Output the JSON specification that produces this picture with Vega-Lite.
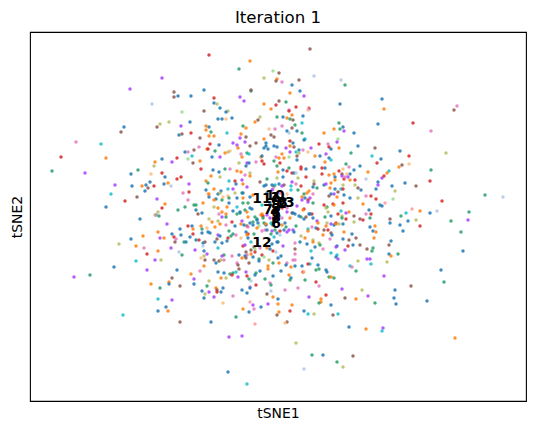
{"$schema":"https://vega.github.io/schema/vega-lite/v6.json","width":496,"height":369,"autosize":"none","padding":{"left":30,"top":32,"right":9,"bottom":30},"background":"white","title":{"text":"Iteration 1","fontSize":16.6,"font":"DejaVu Sans","fontWeight":"normal","color":"black","offset":5,"anchor":"middle"},"config":{"view":{"stroke":"black","strokeWidth":1.1},"font":"DejaVu Sans"},
"datasets":{"labels":[{"x":246,"y":200,"t":"0"},{"x":245,"y":203,"t":"1"},{"x":252,"y":197,"t":"2"},{"x":253,"y":198,"t":"3"},{"x":245,"y":189,"t":"4"},{"x":246,"y":186,"t":"5"},{"x":246,"y":177,"t":"6"},{"x":238,"y":191,"t":"7"},{"x":246,"y":183,"t":"8"},{"x":246,"y":192,"t":"9"},{"x":245,"y":205,"t":"10"},{"x":232,"y":202,"t":"11"},{"x":232,"y":158,"t":"12"},{"x":255,"y":198,"t":"13"}],
"cells":[{"x":179,"y":346,"c":3},{"x":220,"y":340,"c":1},{"x":209,"y":332,"c":2},{"x":243,"y":330,"c":11},{"x":249,"y":328,"c":5},{"x":234,"y":323,"c":7},{"x":247,"y":322,"c":1},{"x":246,"y":320,"c":5},{"x":132,"y":323,"c":4},{"x":100,"y":312,"c":4},{"x":144,"y":309,"c":5},{"x":148,"y":305,"c":0},{"x":144,"y":304,"c":5},{"x":161,"y":305,"c":0},{"x":174,"y":311,"c":0},{"x":221,"y":310,"c":2},{"x":221,"y":311,"c":5},{"x":184,"y":303,"c":3},{"x":210,"y":304,"c":4},{"x":122,"y":297,"c":9},{"x":214,"y":300,"c":4},{"x":184,"y":298,"c":0},{"x":187,"y":297,"c":7},{"x":234,"y":297,"c":1},{"x":249,"y":300,"c":5},{"x":246,"y":296,"c":3},{"x":190,"y":293,"c":0},{"x":241,"y":292,"c":1},{"x":198,"y":290,"c":7},{"x":196,"y":289,"c":0},{"x":174,"y":290,"c":5},{"x":152,"y":289,"c":11},{"x":247,"y":284,"c":2},{"x":230,"y":284,"c":7},{"x":228,"y":281,"c":5},{"x":225,"y":279,"c":1},{"x":188,"y":282,"c":0},{"x":192,"y":282,"c":0},{"x":196,"y":282,"c":10},{"x":202,"y":283,"c":0},{"x":160,"y":279,"c":0},{"x":139,"y":279,"c":7},{"x":130,"y":277,"c":7},{"x":127,"y":274,"c":5},{"x":94,"y":274,"c":0},{"x":91,"y":269,"c":5},{"x":151,"y":275,"c":4},{"x":176,"y":275,"c":1},{"x":179,"y":274,"c":0},{"x":213,"y":275,"c":2},{"x":216,"y":273,"c":1},{"x":176,"y":271,"c":1},{"x":181,"y":269,"c":2},{"x":197,"y":268,"c":8},{"x":161,"y":268,"c":3},{"x":149,"y":266,"c":0},{"x":152,"y":267,"c":5},{"x":211,"y":267,"c":1},{"x":179,"y":265,"c":1},{"x":184,"y":265,"c":1},{"x":170,"y":263,"c":5},{"x":210,"y":263,"c":4},{"x":216,"y":264,"c":5},{"x":239,"y":272,"c":10},{"x":245,"y":272,"c":6},{"x":234,"y":262,"c":1},{"x":241,"y":266,"c":5},{"x":244,"y":264,"c":5},{"x":46,"y":259,"c":6},{"x":71,"y":257,"c":8},{"x":215,"y":259,"c":4},{"x":180,"y":257,"c":3},{"x":203,"y":258,"c":4},{"x":189,"y":256,"c":0},{"x":207,"y":256,"c":4},{"x":226,"y":258,"c":5},{"x":220,"y":255,"c":5},{"x":236,"y":258,"c":0},{"x":236,"y":255,"c":0},{"x":234,"y":253,"c":0},{"x":238,"y":252,"c":0},{"x":244,"y":255,"c":0},{"x":247,"y":254,"c":0},{"x":169,"y":254,"c":6},{"x":208,"y":253,"c":1},{"x":164,"y":251,"c":5},{"x":177,"y":252,"c":1},{"x":178,"y":252,"c":3},{"x":185,"y":250,"c":2},{"x":155,"y":249,"c":0},{"x":158,"y":249,"c":6},{"x":200,"y":250,"c":10},{"x":198,"y":249,"c":7},{"x":195,"y":248,"c":1},{"x":211,"y":247,"c":6},{"x":217,"y":248,"c":2},{"x":219,"y":247,"c":8},{"x":31,"y":244,"c":3},{"x":76,"y":243,"c":1},{"x":147,"y":243,"c":3},{"x":132,"y":242,"c":0},{"x":162,"y":245,"c":8},{"x":158,"y":242,"c":11},{"x":170,"y":240,"c":1},{"x":190,"y":244,"c":4},{"x":182,"y":244,"c":0},{"x":212,"y":244,"c":1},{"x":231,"y":244,"c":1},{"x":232,"y":245,"c":0},{"x":125,"y":239,"c":1},{"x":142,"y":239,"c":4},{"x":163,"y":238,"c":5},{"x":209,"y":238,"c":7},{"x":217,"y":238,"c":4},{"x":219,"y":238,"c":0},{"x":226,"y":239,"c":6},{"x":232,"y":240,"c":3},{"x":234,"y":237,"c":3},{"x":244,"y":240,"c":2},{"x":246,"y":244,"c":6},{"x":249,"y":243,"c":1},{"x":124,"y":235,"c":7},{"x":216,"y":235,"c":0},{"x":247,"y":235,"c":2},{"x":171,"y":232,"c":3},{"x":195,"y":232,"c":2},{"x":200,"y":232,"c":6},{"x":108,"y":231,"c":2},{"x":22,"y":230,"c":2},{"x":183,"y":231,"c":0},{"x":189,"y":229,"c":0},{"x":207,"y":230,"c":1},{"x":211,"y":229,"c":1},{"x":55,"y":228,"c":4},{"x":101,"y":227,"c":0},{"x":132,"y":228,"c":3},{"x":220,"y":228,"c":7},{"x":220,"y":225,"c":1},{"x":215,"y":226,"c":6},{"x":190,"y":224,"c":7},{"x":181,"y":225,"c":1},{"x":121,"y":227,"c":10},{"x":135,"y":224,"c":0},{"x":151,"y":224,"c":3},{"x":147,"y":222,"c":3},{"x":237,"y":222,"c":2},{"x":247,"y":223,"c":7},{"x":176,"y":220,"c":1},{"x":199,"y":220,"c":8},{"x":205,"y":220,"c":3},{"x":212,"y":221,"c":4},{"x":178,"y":218,"c":2},{"x":120,"y":219,"c":0},{"x":138,"y":218,"c":1},{"x":116,"y":216,"c":0},{"x":134,"y":217,"c":0},{"x":85,"y":216,"c":4},{"x":102,"y":215,"c":0},{"x":112,"y":215,"c":1},{"x":124,"y":215,"c":3},{"x":141,"y":215,"c":9},{"x":159,"y":217,"c":4},{"x":206,"y":217,"c":0},{"x":213,"y":217,"c":1},{"x":217,"y":214,"c":4},{"x":230,"y":219,"c":5},{"x":234,"y":215,"c":0},{"x":236,"y":216,"c":0},{"x":243,"y":212,"c":6},{"x":244,"y":215,"c":5},{"x":118,"y":213,"c":5},{"x":115,"y":210,"c":0},{"x":176,"y":211,"c":0},{"x":198,"y":212,"c":8},{"x":191,"y":210,"c":0},{"x":159,"y":209,"c":3},{"x":153,"y":208,"c":6},{"x":205,"y":208,"c":7},{"x":212,"y":208,"c":2},{"x":81,"y":207,"c":8},{"x":178,"y":207,"c":10},{"x":179,"y":207,"c":1},{"x":188,"y":207,"c":0},{"x":190,"y":208,"c":7},{"x":179,"y":204,"c":0},{"x":184,"y":212,"c":1},{"x":193,"y":204,"c":10},{"x":198,"y":205,"c":10},{"x":107,"y":204,"c":5},{"x":199,"y":203,"c":2},{"x":186,"y":202,"c":0},{"x":207,"y":203,"c":0},{"x":220,"y":204,"c":0},{"x":203,"y":212,"c":4},{"x":184,"y":201,"c":1},{"x":192,"y":201,"c":2},{"x":199,"y":198,"c":0},{"x":127,"y":202,"c":4},{"x":95,"y":200,"c":3},{"x":158,"y":201,"c":6},{"x":173,"y":198,"c":1},{"x":135,"y":197,"c":1},{"x":76,"y":194,"c":0},{"x":155,"y":194,"c":2},{"x":164,"y":196,"c":2},{"x":166,"y":196,"c":2},{"x":184,"y":194,"c":7},{"x":197,"y":194,"c":1},{"x":207,"y":194,"c":8},{"x":213,"y":198,"c":2},{"x":218,"y":198,"c":2},{"x":188,"y":193,"c":1},{"x":132,"y":193,"c":3},{"x":148,"y":191,"c":2},{"x":166,"y":191,"c":0},{"x":172,"y":188,"c":0},{"x":203,"y":190,"c":0},{"x":217,"y":189,"c":1},{"x":222,"y":192,"c":0},{"x":192,"y":189,"c":1},{"x":128,"y":189,"c":7},{"x":168,"y":187,"c":5},{"x":189,"y":187,"c":6},{"x":196,"y":187,"c":1},{"x":207,"y":187,"c":2},
{"x":126,"y":186,"c":4},{"x":129,"y":185,"c":2},{"x":125,"y":186,"c":7},{"x":110,"y":182,"c":0},{"x":179,"y":182,"c":7},{"x":192,"y":184,"c":4},{"x":196,"y":184,"c":2},{"x":210,"y":188,"c":2},{"x":227,"y":182,"c":2},{"x":231,"y":186,"c":1},{"x":233,"y":185,"c":3},{"x":212,"y":180,"c":4},{"x":188,"y":180,"c":7},{"x":182,"y":179,"c":1},{"x":202,"y":179,"c":3},{"x":223,"y":179,"c":2},{"x":220,"y":178,"c":0},{"x":228,"y":178,"c":0},{"x":234,"y":178,"c":2},{"x":211,"y":177,"c":1},{"x":214,"y":176,"c":0},{"x":217,"y":175,"c":5},{"x":229,"y":175,"c":11},{"x":236,"y":176,"c":0},{"x":236,"y":177,"c":1},{"x":242,"y":177,"c":2},{"x":137,"y":177,"c":4},{"x":158,"y":175,"c":3},{"x":162,"y":175,"c":0},{"x":171,"y":175,"c":1},{"x":172,"y":172,"c":2},{"x":177,"y":173,"c":10},{"x":190,"y":177,"c":1},{"x":196,"y":176,"c":6},{"x":185,"y":174,"c":1},{"x":205,"y":175,"c":0},{"x":150,"y":172,"c":0},{"x":163,"y":172,"c":1},{"x":128,"y":169,"c":1},{"x":199,"y":170,"c":2},{"x":232,"y":170,"c":6},{"x":235,"y":171,"c":6},{"x":242,"y":170,"c":4},{"x":216,"y":169,"c":0},{"x":113,"y":165,"c":1},{"x":142,"y":167,"c":0},{"x":151,"y":166,"c":0},{"x":163,"y":167,"c":3},{"x":172,"y":168,"c":0},{"x":178,"y":169,"c":0},{"x":180,"y":168,"c":0},{"x":218,"y":167,"c":3},{"x":217,"y":166,"c":1},{"x":224,"y":167,"c":2},{"x":203,"y":167,"c":2},{"x":206,"y":166,"c":6},{"x":188,"y":166,"c":4},{"x":190,"y":165,"c":0},{"x":241,"y":167,"c":2},{"x":247,"y":168,"c":0},{"x":244,"y":164,"c":8},{"x":130,"y":163,"c":4},{"x":144,"y":164,"c":3},{"x":134,"y":163,"c":1},{"x":160,"y":164,"c":0},{"x":187,"y":162,"c":5},{"x":198,"y":163,"c":3},{"x":201,"y":165,"c":2},{"x":218,"y":163,"c":0},{"x":211,"y":163,"c":10},{"x":101,"y":162,"c":0},{"x":146,"y":162,"c":6},{"x":169,"y":161,"c":3},{"x":166,"y":161,"c":0},{"x":197,"y":160,"c":0},{"x":221,"y":159,"c":8},{"x":175,"y":159,"c":5},{"x":173,"y":158,"c":0},{"x":185,"y":159,"c":0},{"x":192,"y":158,"c":0},{"x":145,"y":159,"c":5},{"x":154,"y":159,"c":2},{"x":156,"y":159,"c":0},{"x":242,"y":157,"c":0},{"x":247,"y":159,"c":0},{"x":89,"y":157,"c":7},{"x":106,"y":155,"c":1},{"x":213,"y":155,"c":3},{"x":215,"y":156,"c":4},{"x":173,"y":155,"c":9},{"x":114,"y":153,"c":6},{"x":141,"y":153,"c":4},{"x":188,"y":153,"c":8},{"x":224,"y":154,"c":5},{"x":230,"y":153,"c":6},{"x":237,"y":153,"c":1},{"x":240,"y":152,"c":0},{"x":243,"y":150,"c":3},{"x":221,"y":151,"c":5},{"x":225,"y":152,"c":11},{"x":128,"y":150,"c":1},{"x":165,"y":151,"c":4},{"x":174,"y":150,"c":0},{"x":225,"y":149,"c":3},{"x":216,"y":149,"c":5},{"x":246,"y":149,"c":9},{"x":117,"y":147,"c":3},{"x":149,"y":149,"c":9},{"x":152,"y":146,"c":2},{"x":177,"y":147,"c":4},{"x":194,"y":146,"c":2},{"x":192,"y":145,"c":4},{"x":202,"y":145,"c":6},{"x":209,"y":146,"c":0},{"x":221,"y":147,"c":1},{"x":217,"y":146,"c":6},{"x":232,"y":146,"c":3},{"x":229,"y":142,"c":2},{"x":234,"y":144,"c":11},{"x":248,"y":143,"c":0},{"x":223,"y":144,"c":0},{"x":215,"y":145,"c":0},{"x":212,"y":143,"c":1},{"x":216,"y":143,"c":5},{"x":171,"y":143,"c":10},{"x":174,"y":145,"c":7},{"x":175,"y":141,"c":5},{"x":125,"y":141,"c":4},{"x":131,"y":141,"c":7},{"x":106,"y":140,"c":8},{"x":184,"y":141,"c":5},{"x":189,"y":140,"c":5},{"x":191,"y":141,"c":7},{"x":194,"y":141,"c":6},{"x":186,"y":138,"c":0},{"x":229,"y":140,"c":0},{"x":239,"y":141,"c":7},{"x":219,"y":138,"c":5},{"x":243,"y":138,"c":2},{"x":249,"y":138,"c":1},{"x":207,"y":138,"c":6},{"x":208,"y":136,"c":5},{"x":174,"y":135,"c":1},{"x":238,"y":135,"c":1},{"x":238,"y":132,"c":1},{"x":84,"y":134,"c":0},{"x":117,"y":131,"c":4},{"x":147,"y":131,"c":0},{"x":170,"y":130,"c":6},{"x":209,"y":132,"c":5},{"x":216,"y":129,"c":4},{"x":188,"y":129,"c":0},{"x":194,"y":128,"c":0},{"x":200,"y":127,"c":2},{"x":203,"y":128,"c":2},{"x":202,"y":126,"c":3},{"x":206,"y":129,"c":8},{"x":230,"y":130,"c":0},{"x":226,"y":128,"c":2},{"x":225,"y":126,"c":0},{"x":217,"y":125,"c":3},{"x":161,"y":127,"c":1},{"x":208,"y":124,"c":4},{"x":243,"y":125,"c":0},{"x":191,"y":123,"c":1},{"x":196,"y":123,"c":7},{"x":164,"y":122,"c":4},{"x":219,"y":122,"c":2},{"x":235,"y":122,"c":2},{"x":142,"y":123,"c":5},{"x":221,"y":120,"c":9},{"x":139,"y":119,"c":1},{"x":139,"y":117,"c":0},{"x":121,"y":117,"c":1},{"x":179,"y":120,"c":7},{"x":164,"y":117,"c":0},{"x":240,"y":118,"c":6},{"x":241,"y":116,"c":2},{"x":226,"y":116,"c":3},{"x":177,"y":115,"c":2},{"x":150,"y":115,"c":5},{"x":220,"y":114,"c":6},{"x":220,"y":113,"c":0},{"x":130,"y":113,"c":2},{"x":186,"y":113,"c":1},{"x":187,"y":111,"c":5},{"x":193,"y":113,"c":0},{"x":212,"y":111,"c":0},{"x":241,"y":110,"c":9},{"x":172,"y":110,"c":0},{"x":179,"y":109,"c":4},{"x":187,"y":109,"c":3},{"x":191,"y":109,"c":0},{"x":217,"y":108,"c":0},{"x":175,"y":107,"c":7},{"x":237,"y":107,"c":5},{"x":203,"y":105,"c":6},{"x":243,"y":104,"c":1},{"x":174,"y":103,"c":0},{"x":184,"y":104,"c":4},{"x":248,"y":102,"c":0},{"x":128,"y":102,"c":8},{"x":142,"y":101,"c":4},{"x":220,"y":99,"c":12},{"x":193,"y":98,"c":10},{"x":223,"y":96,"c":4},{"x":248,"y":97,"c":1},{"x":238,"y":97,"c":4},{"x":136,"y":94,"c":0},{"x":231,"y":94,"c":0},{"x":213,"y":92,"c":1},{"x":224,"y":92,"c":6},{"x":128,"y":90,"c":0},{"x":138,"y":90,"c":1},{"x":219,"y":89,"c":0},{"x":249,"y":89,"c":1},{"x":93,"y":86,"c":8},{"x":247,"y":86,"c":5},{"x":206,"y":84,"c":2},{"x":150,"y":79,"c":5},{"x":181,"y":79,"c":0},{"x":225,"y":77,"c":12},{"x":199,"y":64,"c":4},{"x":212,"y":65,"c":4},{"x":198,"y":29,"c":0},{"x":217,"y":17,"c":8},{"x":44,"y":124,"c":4},{"x":60,"y":126,"c":2},
{"x":280,"y":352,"c":5},{"x":252,"y":319,"c":6},{"x":269,"y":321,"c":5},{"x":284,"y":325,"c":9},{"x":311,"y":321,"c":9},{"x":315,"y":316,"c":2},{"x":262,"y":316,"c":0},{"x":270,"y":310,"c":0},{"x":260,"y":308,"c":1},{"x":274,"y":305,"c":4},{"x":352,"y":302,"c":0},{"x":256,"y":299,"c":2},{"x":310,"y":297,"c":0},{"x":266,"y":294,"c":3},{"x":279,"y":293,"c":1},{"x":279,"y":292,"c":4},{"x":278,"y":291,"c":10},{"x":259,"y":291,"c":6},{"x":259,"y":290,"c":3},{"x":354,"y":292,"c":1},{"x":427,"y":295,"c":6},{"x":424,"y":291,"c":5},{"x":262,"y":286,"c":1},{"x":273,"y":285,"c":0},{"x":253,"y":284,"c":0},{"x":257,"y":283,"c":1},{"x":260,"y":282,"c":2},{"x":263,"y":281,"c":5},{"x":383,"y":278,"c":3},{"x":272,"y":278,"c":8},{"x":309,"y":278,"c":2},{"x":348,"y":277,"c":0},{"x":265,"y":276,"c":2},{"x":313,"y":274,"c":0},{"x":262,"y":273,"c":5},{"x":252,"y":275,"c":6},{"x":304,"y":272,"c":1},{"x":310,"y":272,"c":2},{"x":314,"y":270,"c":4},{"x":401,"y":270,"c":6},{"x":257,"y":270,"c":0},{"x":259,"y":268,"c":9},{"x":267,"y":270,"c":0},{"x":272,"y":268,"c":2},{"x":294,"y":268,"c":1},{"x":324,"y":268,"c":0},{"x":275,"y":262,"c":8},{"x":274,"y":261,"c":0},{"x":308,"y":262,"c":11},{"x":260,"y":260,"c":3},{"x":263,"y":258,"c":0},{"x":289,"y":257,"c":3},{"x":307,"y":259,"c":4},{"x":298,"y":257,"c":6},{"x":260,"y":255,"c":1},{"x":264,"y":254,"c":5},{"x":299,"y":254,"c":3},{"x":256,"y":253,"c":4},{"x":301,"y":252,"c":0},{"x":309,"y":253,"c":1},{"x":281,"y":253,"c":4},{"x":328,"y":255,"c":0},{"x":345,"y":253,"c":5},{"x":273,"y":251,"c":6},{"x":269,"y":251,"c":0},{"x":260,"y":249,"c":4},{"x":266,"y":249,"c":8},{"x":269,"y":248,"c":7},{"x":278,"y":249,"c":10},{"x":370,"y":250,"c":0},{"x":321,"y":248,"c":2},{"x":252,"y":247,"c":1},{"x":267,"y":245,"c":5},{"x":290,"y":245,"c":0},{"x":285,"y":245,"c":1},{"x":296,"y":247,"c":4},{"x":259,"y":244,"c":11},{"x":342,"y":245,"c":8},{"x":379,"y":245,"c":3},{"x":416,"y":248,"c":7},{"x":254,"y":243,"c":1},{"x":299,"y":243,"c":0},{"x":301,"y":241,"c":8},{"x":267,"y":241,"c":0},{"x":351,"y":242,"c":0},{"x":295,"y":239,"c":1},{"x":347,"y":238,"c":3},{"x":379,"y":237,"c":10},{"x":369,"y":234,"c":1},{"x":372,"y":236,"c":5},{"x":250,"y":238,"c":3},{"x":316,"y":237,"c":2},{"x":284,"y":234,"c":0},{"x":295,"y":233,"c":0},{"x":292,"y":233,"c":3},{"x":319,"y":234,"c":6},{"x":313,"y":232,"c":10},{"x":330,"y":235,"c":0},{"x":259,"y":233,"c":2},{"x":271,"y":234,"c":3},{"x":271,"y":232,"c":3},{"x":276,"y":232,"c":0},{"x":401,"y":231,"c":2},{"x":253,"y":231,"c":0},{"x":257,"y":230,"c":3},{"x":262,"y":228,"c":3},{"x":264,"y":228,"c":0},{"x":266,"y":228,"c":9},{"x":248,"y":229,"c":1},{"x":324,"y":231,"c":0},{"x":320,"y":227,"c":0},{"x":338,"y":229,"c":1},{"x":359,"y":230,"c":8},{"x":357,"y":228,"c":1},{"x":292,"y":227,"c":3},{"x":299,"y":226,"c":1},{"x":304,"y":227,"c":1},{"x":305,"y":224,"c":0},{"x":309,"y":230,"c":3},{"x":312,"y":227,"c":5},{"x":317,"y":227,"c":10},{"x":314,"y":222,"c":3},{"x":318,"y":224,"c":4},{"x":312,"y":225,"c":4},{"x":315,"y":224,"c":6},{"x":268,"y":223,"c":7},{"x":253,"y":224,"c":0},{"x":276,"y":224,"c":3},{"x":320,"y":221,"c":1},{"x":352,"y":223,"c":4},{"x":354,"y":225,"c":3},{"x":305,"y":221,"c":1},{"x":325,"y":221,"c":3},{"x":336,"y":222,"c":9},{"x":400,"y":220,"c":3},{"x":348,"y":219,"c":0},{"x":284,"y":220,"c":7},{"x":284,"y":217,"c":5},{"x":262,"y":219,"c":4},{"x":348,"y":216,"c":4},{"x":301,"y":218,"c":1},{"x":294,"y":216,"c":0},{"x":296,"y":217,"c":4},{"x":313,"y":216,"c":7},{"x":325,"y":216,"c":7},{"x":254,"y":216,"c":5},{"x":252,"y":215,"c":4},{"x":271,"y":215,"c":3},{"x":266,"y":217,"c":6},{"x":375,"y":218,"c":0},{"x":362,"y":215,"c":0},{"x":386,"y":215,"c":5},{"x":300,"y":213,"c":1},{"x":261,"y":215,"c":8},{"x":283,"y":214,"c":0},{"x":287,"y":213,"c":2},{"x":305,"y":212,"c":0},{"x":328,"y":213,"c":5},{"x":346,"y":212,"c":0},{"x":365,"y":210,"c":7},{"x":261,"y":211,"c":8},{"x":268,"y":211,"c":2},{"x":311,"y":212,"c":8},{"x":313,"y":212,"c":3},{"x":279,"y":210,"c":1},{"x":277,"y":208,"c":1},{"x":308,"y":209,"c":5},{"x":331,"y":211,"c":0},{"x":283,"y":207,"c":6},{"x":304,"y":207,"c":4},{"x":301,"y":207,"c":0},{"x":455,"y":206,"c":2},{"x":473,"y":204,"c":9},{"x":336,"y":205,"c":6},{"x":341,"y":205,"c":3},{"x":299,"y":205,"c":5},{"x":314,"y":206,"c":0},{"x":307,"y":204,"c":1},{"x":257,"y":207,"c":10},{"x":363,"y":202,"c":11},{"x":320,"y":203,"c":0},{"x":328,"y":203,"c":7},{"x":346,"y":202,"c":3},{"x":412,"y":200,"c":3},{"x":274,"y":207,"c":2},{"x":272,"y":204,"c":1},{"x":275,"y":203,"c":0},{"x":280,"y":203,"c":4},{"x":272,"y":201,"c":4},{"x":278,"y":201,"c":3},{"x":283,"y":198,"c":2},{"x":278,"y":199,"c":4},{"x":313,"y":198,"c":3},{"x":333,"y":197,"c":1},{"x":355,"y":198,"c":12},{"x":350,"y":196,"c":0},{"x":352,"y":195,"c":0},{"x":267,"y":195,"c":4},{"x":294,"y":196,"c":3},{"x":297,"y":194,"c":2},{"x":296,"y":193,"c":7},{"x":303,"y":197,"c":3},{"x":304,"y":196,"c":1},{"x":339,"y":191,"c":0},{"x":382,"y":192,"c":12},{"x":390,"y":190,"c":1},{"x":407,"y":190,"c":9},{"x":376,"y":188,"c":8},{"x":400,"y":188,"c":0},{"x":439,"y":189,"c":2},{"x":274,"y":192,"c":3},{"x":273,"y":191,"c":1},{"x":279,"y":187,"c":0},{"x":319,"y":189,"c":1},{"x":311,"y":190,"c":8},{"x":298,"y":189,"c":7},{"x":316,"y":188,"c":4},{"x":336,"y":187,"c":6},{"x":341,"y":187,"c":3},{"x":308,"y":187,"c":3},{"x":282,"y":187,"c":3},{"x":265,"y":187,"c":0},{"x":262,"y":188,"c":5},
{"x":324,"y":185,"c":5},{"x":371,"y":185,"c":2},{"x":301,"y":185,"c":0},{"x":295,"y":184,"c":2},{"x":312,"y":185,"c":7},{"x":316,"y":182,"c":3},{"x":312,"y":183,"c":2},{"x":340,"y":183,"c":2},{"x":330,"y":182,"c":5},{"x":333,"y":181,"c":3},{"x":378,"y":180,"c":0},{"x":386,"y":181,"c":7},{"x":421,"y":180,"c":2},{"x":438,"y":181,"c":4},{"x":360,"y":182,"c":5},{"x":360,"y":178,"c":0},{"x":324,"y":179,"c":7},{"x":313,"y":177,"c":0},{"x":287,"y":180,"c":4},{"x":288,"y":178,"c":1},{"x":306,"y":178,"c":3},{"x":297,"y":178,"c":7},{"x":296,"y":175,"c":1},{"x":301,"y":177,"c":4},{"x":304,"y":176,"c":0},{"x":306,"y":177,"c":1},{"x":309,"y":177,"c":7},{"x":283,"y":183,"c":0},{"x":274,"y":182,"c":0},{"x":271,"y":184,"c":2},{"x":276,"y":184,"c":5},{"x":280,"y":187,"c":0},{"x":269,"y":185,"c":0},{"x":340,"y":174,"c":0},{"x":345,"y":175,"c":1},{"x":370,"y":176,"c":0},{"x":390,"y":175,"c":3},{"x":266,"y":175,"c":2},{"x":256,"y":174,"c":2},{"x":282,"y":174,"c":6},{"x":286,"y":173,"c":0},{"x":288,"y":172,"c":3},{"x":294,"y":171,"c":5},{"x":298,"y":171,"c":3},{"x":254,"y":171,"c":0},{"x":259,"y":171,"c":4},{"x":263,"y":171,"c":4},{"x":264,"y":169,"c":0},{"x":278,"y":172,"c":8},{"x":278,"y":170,"c":1},{"x":314,"y":169,"c":1},{"x":343,"y":170,"c":0},{"x":346,"y":169,"c":1},{"x":373,"y":170,"c":0},{"x":431,"y":169,"c":2},{"x":301,"y":168,"c":5},{"x":302,"y":166,"c":0},{"x":293,"y":166,"c":1},{"x":322,"y":167,"c":0},{"x":250,"y":166,"c":9},{"x":271,"y":165,"c":7},{"x":275,"y":163,"c":1},{"x":326,"y":163,"c":5},{"x":344,"y":163,"c":1},{"x":300,"y":162,"c":6},{"x":283,"y":161,"c":7},{"x":283,"y":159,"c":1},{"x":313,"y":162,"c":0},{"x":319,"y":161,"c":5},{"x":361,"y":160,"c":0},{"x":270,"y":159,"c":0},{"x":277,"y":157,"c":0},{"x":265,"y":158,"c":6},{"x":248,"y":159,"c":0},{"x":289,"y":158,"c":7},{"x":290,"y":156,"c":2},{"x":323,"y":156,"c":0},{"x":330,"y":156,"c":5},{"x":359,"y":156,"c":5},{"x":253,"y":155,"c":4},{"x":307,"y":155,"c":0},{"x":306,"y":154,"c":4},{"x":318,"y":155,"c":3},{"x":285,"y":154,"c":0},{"x":337,"y":152,"c":5},{"x":343,"y":153,"c":2},{"x":342,"y":150,"c":2},{"x":293,"y":152,"c":6},{"x":265,"y":152,"c":5},{"x":315,"y":151,"c":4},{"x":281,"y":150,"c":8},{"x":433,"y":150,"c":0},{"x":359,"y":147,"c":0},{"x":361,"y":145,"c":1},{"x":368,"y":147,"c":2},{"x":301,"y":148,"c":8},{"x":265,"y":147,"c":6},{"x":251,"y":145,"c":0},{"x":307,"y":146,"c":8},{"x":306,"y":144,"c":0},{"x":308,"y":142,"c":4},{"x":282,"y":143,"c":0},{"x":263,"y":141,"c":6},{"x":265,"y":141,"c":6},{"x":337,"y":142,"c":4},{"x":340,"y":142,"c":4},{"x":328,"y":140,"c":7},{"x":357,"y":139,"c":7},{"x":257,"y":138,"c":6},{"x":256,"y":136,"c":0},{"x":280,"y":137,"c":8},{"x":278,"y":137,"c":3},{"x":288,"y":136,"c":0},{"x":265,"y":135,"c":0},{"x":272,"y":135,"c":0},{"x":261,"y":134,"c":1},{"x":341,"y":137,"c":8},{"x":320,"y":135,"c":8},{"x":322,"y":134,"c":6},{"x":326,"y":130,"c":2},{"x":286,"y":131,"c":2},{"x":289,"y":132,"c":2},{"x":296,"y":131,"c":0},{"x":297,"y":129,"c":0},{"x":411,"y":131,"c":0},{"x":251,"y":130,"c":0},{"x":273,"y":129,"c":3},{"x":274,"y":129,"c":10},{"x":354,"y":125,"c":4},{"x":259,"y":126,"c":1},{"x":299,"y":124,"c":2},{"x":301,"y":124,"c":1},{"x":304,"y":123,"c":2},{"x":261,"y":123,"c":0},{"x":260,"y":121,"c":2},{"x":275,"y":121,"c":2},{"x":414,"y":119,"c":2},{"x":286,"y":119,"c":3},{"x":289,"y":115,"c":6},{"x":381,"y":115,"c":5},{"x":268,"y":113,"c":6},{"x":255,"y":111,"c":6},{"x":312,"y":112,"c":4},{"x":332,"y":111,"c":7},{"x":365,"y":111,"c":0},{"x":296,"y":106,"c":3},{"x":338,"y":105,"c":4},{"x":279,"y":104,"c":4},{"x":315,"y":103,"c":5},{"x":326,"y":102,"c":1},{"x":364,"y":103,"c":0},{"x":397,"y":100,"c":0},{"x":291,"y":102,"c":1},{"x":291,"y":99,"c":1},{"x":289,"y":98,"c":2},{"x":345,"y":98,"c":2},{"x":366,"y":97,"c":0},{"x":301,"y":96,"c":0},{"x":262,"y":96,"c":1},{"x":274,"y":90,"c":0},{"x":260,"y":90,"c":3},{"x":278,"y":87,"c":8},{"x":284,"y":87,"c":7},{"x":303,"y":86,"c":5},{"x":308,"y":87,"c":8},{"x":257,"y":79,"c":5},{"x":255,"y":78,"c":10},{"x":319,"y":74,"c":0},{"x":336,"y":72,"c":1},{"x":353,"y":73,"c":4},{"x":352,"y":70,"c":8},{"x":425,"y":63,"c":1},{"x":266,"y":58,"c":7},{"x":282,"y":46,"c":2},{"x":293,"y":46,"c":0},{"x":323,"y":45,"c":5},{"x":307,"y":39,"c":2},{"x":313,"y":34,"c":7},{"x":274,"y":32,"c":9},
{"x":245,"y":216,"c":8},{"x":249,"y":217,"c":0},{"x":213,"y":203,"c":1},{"x":213,"y":208,"c":0},{"x":232,"y":196,"c":8},{"x":243,"y":190,"c":3},{"x":248,"y":188,"c":6},{"x":249,"y":185,"c":0},{"x":240,"y":183,"c":4},{"x":246,"y":185,"c":3},{"x":237,"y":186,"c":4},{"x":232,"y":187,"c":1},{"x":227,"y":181,"c":0},{"x":233,"y":183,"c":2},{"x":243,"y":176,"c":0},{"x":250,"y":170,"c":3},{"x":257,"y":193,"c":6},{"x":257,"y":189,"c":4},{"x":263,"y":188,"c":0},{"x":260,"y":183,"c":1},{"x":241,"y":178,"c":8},{"x":245,"y":171,"c":2},{"x":237,"y":171,"c":0},{"x":252,"y":183,"c":6},{"x":255,"y":178,"c":0},{"x":252,"y":176,"c":1},{"x":257,"y":169,"c":4},{"x":247,"y":189,"c":3},{"x":220,"y":193,"c":0},{"x":215,"y":191,"c":2},{"x":210,"y":189,"c":0},{"x":225,"y":184,"c":2},{"x":218,"y":184,"c":1},{"x":218,"y":174,"c":6},{"x":223,"y":176,"c":0},{"x":227,"y":173,"c":1},{"x":240,"y":198,"c":0},{"x":245,"y":201,"c":2},{"x":250,"y":208,"c":6},{"x":237,"y":208,"c":0},{"x":242,"y":211,"c":4},{"x":223,"y":206,"c":1},{"x":252,"y":193,"c":3},{"x":253,"y":198,"c":5},{"x":242,"y":216,"c":0}]},
"layer":[
{"data":{"name":"cells"},"mark":{"type":"circle","size":12,"opacity":0.85,"stroke":null},"encoding":{"x":{"field":"x","type":"quantitative","title":"tSNE1","scale":{"domain":[0,496],"nice":false,"zero":false},"axis":{"ticks":false,"labels":false,"grid":false,"domain":false,"titleFontWeight":"normal","titleFontSize":13.9,"titleColor":"black","titlePadding":5,"titleFont":"DejaVu Sans"}},"y":{"field":"y","type":"quantitative","title":"tSNE2","scale":{"domain":[0,369],"nice":false,"zero":false},"axis":{"ticks":false,"labels":false,"grid":false,"domain":false,"titleFontWeight":"normal","titleFontSize":13.9,"titleColor":"black","titlePadding":6,"titleFont":"DejaVu Sans"}},"color":{"field":"c","type":"nominal","legend":null,"scale":{"domain":[0,1,2,3,4,5,6,7,8,9,10,11,12,13],"range":["#1f77b4","#ff7f0e","#279e68","#d62728","#aa40fc","#8c564b","#e377c2","#b5bd61","#17becf","#aec7e8","#ffbb78","#98df8a","#ff9896","#c5b0d5"]}}}},
{"data":{"name":"labels"},"mark":{"type":"text","fontWeight":"bold","fontSize":13.9,"color":"black","font":"DejaVu Sans","align":"center","baseline":"middle"},"encoding":{"x":{"field":"x","type":"quantitative"},"y":{"field":"y","type":"quantitative"},"text":{"field":"t"}}}
]}
